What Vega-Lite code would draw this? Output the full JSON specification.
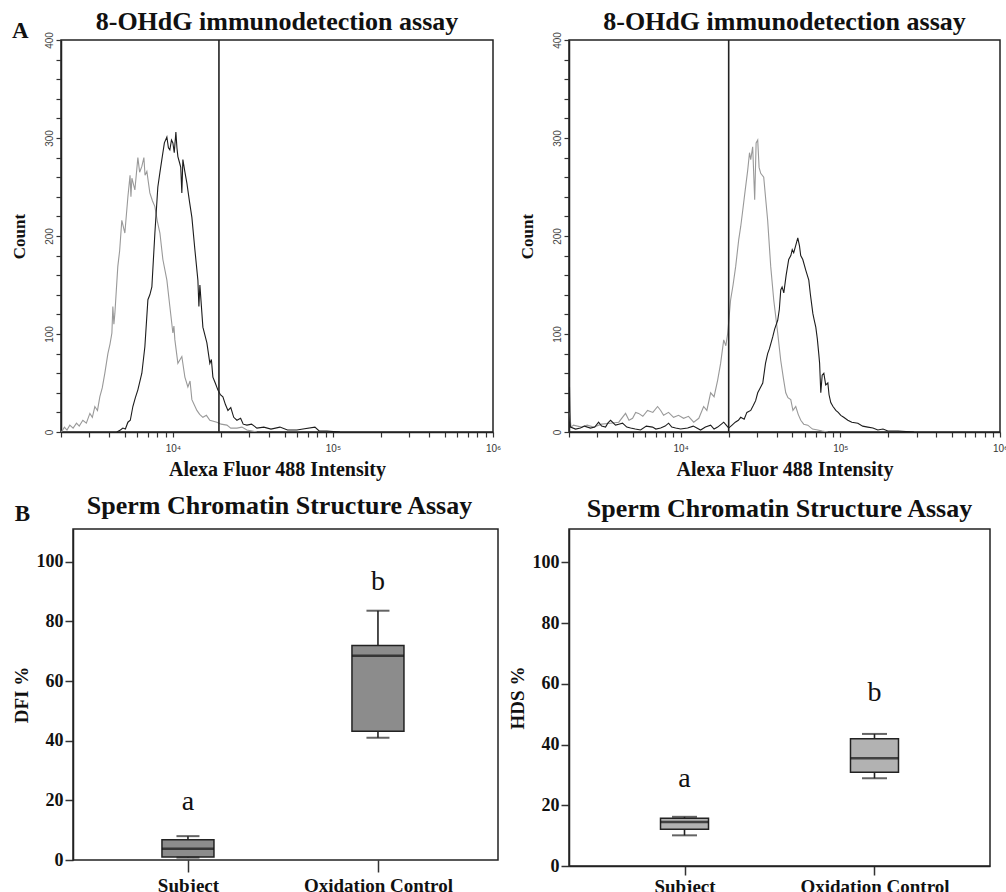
{
  "$schema": "https://vega.github.io/schema/vega-lite/v6.json",
  "background": "white",
  "padding": {"left": 9, "top": 7, "right": 0, "bottom": 0},
  "config": {
    "view": {"stroke": "#222", "strokeWidth": 1.5},
    "axis": {"grid": false},
    "title": {"font": "Liberation Serif", "fontWeight": "bold", "fontSize": 26, "color": "#111", "baseline": "alphabetic"}
  },
  "datasets": {
    "histL": [
      {"intensity":2014,"count":0,"sample":"Control"},{"intensity":2100,"count":5,"sample":"Control"},{"intensity":2180,"count":2,"sample":"Control"},{"intensity":2270,"count":7,"sample":"Control"},{"intensity":2380,"count":4,"sample":"Control"},{"intensity":2500,"count":9,"sample":"Control"},{"intensity":2600,"count":6,"sample":"Control"},{"intensity":2738,"count":12,"sample":"Control"},{"intensity":2880,"count":9,"sample":"Control"},{"intensity":3030,"count":19,"sample":"Control"},{"intensity":3140,"count":15,"sample":"Control"},{"intensity":3254,"count":26,"sample":"Control"},{"intensity":3380,"count":22,"sample":"Control"},{"intensity":3498,"count":36,"sample":"Control"},{"intensity":3620,"count":45,"sample":"Control"},{"intensity":3758,"count":60,"sample":"Control"},{"intensity":3926,"count":80,"sample":"Control"},{"intensity":4050,"count":90,"sample":"Control"},{"intensity":4159,"count":101,"sample":"Control"},{"intensity":4217,"count":128,"sample":"Control"},{"intensity":4280,"count":110,"sample":"Control"},{"intensity":4341,"count":121,"sample":"Control"},{"intensity":4529,"count":169,"sample":"Control"},{"intensity":4650,"count":185,"sample":"Control"},{"intensity":4797,"count":216,"sample":"Control"},{"intensity":5012,"count":203,"sample":"Control"},{"intensity":5236,"count":240,"sample":"Control"},{"intensity":5400,"count":262,"sample":"Control"},{"intensity":5470,"count":240,"sample":"Control"},{"intensity":5546,"count":259,"sample":"Control"},{"intensity":5788,"count":247,"sample":"Control"},{"intensity":6043,"count":280,"sample":"Control"},{"intensity":6200,"count":265,"sample":"Control"},{"intensity":6399,"count":271,"sample":"Control"},{"intensity":6590,"count":280,"sample":"Control"},{"intensity":6700,"count":262,"sample":"Control"},{"intensity":6879,"count":266,"sample":"Control"},{"intensity":7180,"count":244,"sample":"Control"},{"intensity":7450,"count":236,"sample":"Control"},{"intensity":7720,"count":230,"sample":"Control"},{"intensity":8000,"count":215,"sample":"Control"},{"intensity":8299,"count":203,"sample":"Control"},{"intensity":8660,"count":176,"sample":"Control"},{"intensity":9173,"count":155,"sample":"Control"},{"intensity":9574,"count":128,"sample":"Control"},{"intensity":10000,"count":101,"sample":"Control"},{"intensity":10150,"count":108,"sample":"Control"},{"intensity":10292,"count":94,"sample":"Control"},{"intensity":10746,"count":70,"sample":"Control"},{"intensity":11376,"count":77,"sample":"Control"},{"intensity":11885,"count":56,"sample":"Control"},{"intensity":12409,"count":46,"sample":"Control"},{"intensity":12800,"count":52,"sample":"Control"},{"intensity":13145,"count":33,"sample":"Control"},{"intensity":14125,"count":22,"sample":"Control"},{"intensity":14700,"count":18,"sample":"Control"},{"intensity":15399,"count":15,"sample":"Control"},{"intensity":16200,"count":17,"sample":"Control"},{"intensity":17022,"count":12,"sample":"Control"},{"intensity":18836,"count":10,"sample":"Control"},{"intensity":20000,"count":8,"sample":"Control"},{"intensity":21752,"count":7,"sample":"Control"},{"intensity":23000,"count":4,"sample":"Control"},{"intensity":25119,"count":4,"sample":"Control"},{"intensity":27000,"count":5,"sample":"Control"},{"intensity":29007,"count":2,"sample":"Control"},{"intensity":33497,"count":0,"sample":"Control"},
      {"intensity":4467,"count":0,"sample":"Test"},{"intensity":4700,"count":2,"sample":"Test"},{"intensity":4870,"count":4,"sample":"Test"},{"intensity":5050,"count":3,"sample":"Test"},{"intensity":5236,"count":10,"sample":"Test"},{"intensity":5420,"count":12,"sample":"Test"},{"intensity":5623,"count":26,"sample":"Test"},{"intensity":5830,"count":35,"sample":"Test"},{"intensity":6043,"count":43,"sample":"Test"},{"intensity":6399,"count":60,"sample":"Test"},{"intensity":6683,"count":87,"sample":"Test"},{"intensity":6982,"count":135,"sample":"Test"},{"intensity":7180,"count":140,"sample":"Test"},{"intensity":7391,"count":148,"sample":"Test"},{"intensity":7550,"count":175,"sample":"Test"},{"intensity":7720,"count":203,"sample":"Test"},{"intensity":8054,"count":250,"sample":"Test"},{"intensity":8300,"count":265,"sample":"Test"},{"intensity":8531,"count":278,"sample":"Test"},{"intensity":8850,"count":295,"sample":"Test"},{"intensity":9173,"count":301,"sample":"Test"},{"intensity":9380,"count":290,"sample":"Test"},{"intensity":9574,"count":288,"sample":"Test"},{"intensity":9800,"count":298,"sample":"Test"},{"intensity":10000,"count":295,"sample":"Test"},{"intensity":10200,"count":285,"sample":"Test"},{"intensity":10442,"count":306,"sample":"Test"},{"intensity":10600,"count":290,"sample":"Test"},{"intensity":10746,"count":281,"sample":"Test"},{"intensity":11000,"count":275,"sample":"Test"},{"intensity":11200,"count":270,"sample":"Test"},{"intensity":11376,"count":244,"sample":"Test"},{"intensity":11548,"count":278,"sample":"Test"},{"intensity":11900,"count":265,"sample":"Test"},{"intensity":12232,"count":254,"sample":"Test"},{"intensity":12700,"count":235,"sample":"Test"},{"intensity":13145,"count":219,"sample":"Test"},{"intensity":13725,"count":186,"sample":"Test"},{"intensity":14330,"count":155,"sample":"Test"},{"intensity":14540,"count":128,"sample":"Test"},{"intensity":14750,"count":150,"sample":"Test"},{"intensity":15399,"count":107,"sample":"Test"},{"intensity":16312,"count":91,"sample":"Test"},{"intensity":17022,"count":70,"sample":"Test"},{"intensity":17400,"count":74,"sample":"Test"},{"intensity":17783,"count":56,"sample":"Test"},{"intensity":18400,"count":50,"sample":"Test"},{"intensity":19098,"count":43,"sample":"Test"},{"intensity":19800,"count":38,"sample":"Test"},{"intensity":20535,"count":36,"sample":"Test"},{"intensity":21300,"count":28,"sample":"Test"},{"intensity":22080,"count":22,"sample":"Test"},{"intensity":23000,"count":25,"sample":"Test"},{"intensity":24000,"count":15,"sample":"Test"},{"intensity":25119,"count":12,"sample":"Test"},{"intensity":26500,"count":14,"sample":"Test"},{"intensity":27500,"count":8,"sample":"Test"},{"intensity":29007,"count":7,"sample":"Test"},{"intensity":31000,"count":8,"sample":"Test"},{"intensity":33497,"count":4,"sample":"Test"},{"intensity":37000,"count":5,"sample":"Test"},{"intensity":41000,"count":3,"sample":"Test"},{"intensity":46660,"count":5,"sample":"Test"},{"intensity":52000,"count":2,"sample":"Test"},{"intensity":59560,"count":2,"sample":"Test"},{"intensity":65000,"count":3,"sample":"Test"},{"intensity":77180,"count":5,"sample":"Test"},{"intensity":82000,"count":1,"sample":"Test"},{"intensity":91730,"count":1,"sample":"Test"},{"intensity":110600,"count":0,"sample":"Test"}
    ],
    "histR": [
      {"intensity":2014,"count":20,"sample":"Control"},{"intensity":2060,"count":5,"sample":"Control"},{"intensity":2133,"count":7,"sample":"Control"},{"intensity":2400,"count":5,"sample":"Control"},{"intensity":2600,"count":7,"sample":"Control"},{"intensity":2851,"count":5,"sample":"Control"},{"intensity":3200,"count":8,"sample":"Control"},{"intensity":3642,"count":9,"sample":"Control"},{"intensity":4100,"count":10,"sample":"Control"},{"intensity":4520,"count":19,"sample":"Control"},{"intensity":4750,"count":12,"sample":"Control"},{"intensity":5003,"count":14,"sample":"Control"},{"intensity":5230,"count":20,"sample":"Control"},{"intensity":5457,"count":19,"sample":"Control"},{"intensity":5800,"count":16,"sample":"Control"},{"intensity":6209,"count":22,"sample":"Control"},{"intensity":6700,"count":20,"sample":"Control"},{"intensity":7175,"count":26,"sample":"Control"},{"intensity":7500,"count":22,"sample":"Control"},{"intensity":7823,"count":17,"sample":"Control"},{"intensity":8400,"count":20,"sample":"Control"},{"intensity":9036,"count":15,"sample":"Control"},{"intensity":9700,"count":17,"sample":"Control"},{"intensity":10442,"count":14,"sample":"Control"},{"intensity":11200,"count":16,"sample":"Control"},{"intensity":12078,"count":10,"sample":"Control"},{"intensity":13000,"count":14,"sample":"Control"},{"intensity":13938,"count":26,"sample":"Control"},{"intensity":14600,"count":22,"sample":"Control"},{"intensity":15416,"count":40,"sample":"Control"},{"intensity":16200,"count":36,"sample":"Control"},{"intensity":17061,"count":53,"sample":"Control"},{"intensity":17800,"count":70,"sample":"Control"},{"intensity":18617,"count":94,"sample":"Control"},{"intensity":19200,"count":88,"sample":"Control"},{"intensity":19724,"count":101,"sample":"Control"},{"intensity":20565,"count":135,"sample":"Control"},{"intensity":21300,"count":150,"sample":"Control"},{"intensity":22124,"count":169,"sample":"Control"},{"intensity":23103,"count":196,"sample":"Control"},{"intensity":23800,"count":210,"sample":"Control"},{"intensity":24486,"count":226,"sample":"Control"},{"intensity":25300,"count":245,"sample":"Control"},{"intensity":26303,"count":267,"sample":"Control"},{"intensity":27000,"count":285,"sample":"Control"},{"intensity":27479,"count":278,"sample":"Control"},{"intensity":28267,"count":291,"sample":"Control"},{"intensity":29098,"count":237,"sample":"Control"},{"intensity":29700,"count":295,"sample":"Control"},{"intensity":30392,"count":298,"sample":"Control"},{"intensity":31000,"count":270,"sample":"Control"},{"intensity":31736,"count":264,"sample":"Control"},{"intensity":33144,"count":260,"sample":"Control"},{"intensity":34000,"count":240,"sample":"Control"},{"intensity":35075,"count":216,"sample":"Control"},{"intensity":36659,"count":169,"sample":"Control"},{"intensity":38282,"count":135,"sample":"Control"},{"intensity":40541,"count":101,"sample":"Control"},{"intensity":42366,"count":73,"sample":"Control"},{"intensity":44000,"count":55,"sample":"Control"},{"intensity":45541,"count":40,"sample":"Control"},{"intensity":47000,"count":35,"sample":"Control"},{"intensity":48943,"count":33,"sample":"Control"},{"intensity":50500,"count":22,"sample":"Control"},{"intensity":52602,"count":26,"sample":"Control"},{"intensity":54500,"count":18,"sample":"Control"},{"intensity":56544,"count":12,"sample":"Control"},{"intensity":59000,"count":8,"sample":"Control"},{"intensity":62537,"count":7,"sample":"Control"},{"intensity":67000,"count":3,"sample":"Control"},{"intensity":72227,"count":2,"sample":"Control"},{"intensity":77000,"count":1,"sample":"Control"},{"intensity":83561,"count":0,"sample":"Control"},
      {"intensity":2014,"count":46,"sample":"Test"},{"intensity":2030,"count":10,"sample":"Test"},{"intensity":2042,"count":5,"sample":"Test"},{"intensity":2200,"count":3,"sample":"Test"},{"intensity":2358,"count":4,"sample":"Test"},{"intensity":2500,"count":6,"sample":"Test"},{"intensity":2727,"count":4,"sample":"Test"},{"intensity":2900,"count":5,"sample":"Test"},{"intensity":3065,"count":10,"sample":"Test"},{"intensity":3200,"count":6,"sample":"Test"},{"intensity":3388,"count":5,"sample":"Test"},{"intensity":3500,"count":9,"sample":"Test"},{"intensity":3642,"count":12,"sample":"Test"},{"intensity":3912,"count":7,"sample":"Test"},{"intensity":4100,"count":8,"sample":"Test"},{"intensity":4327,"count":9,"sample":"Test"},{"intensity":4600,"count":5,"sample":"Test"},{"intensity":4862,"count":4,"sample":"Test"},{"intensity":5200,"count":3,"sample":"Test"},{"intensity":5613,"count":2,"sample":"Test"},{"intensity":6100,"count":6,"sample":"Test"},{"intensity":6670,"count":5,"sample":"Test"},{"intensity":7000,"count":3,"sample":"Test"},{"intensity":7499,"count":4,"sample":"Test"},{"intensity":8000,"count":6,"sample":"Test"},{"intensity":8408,"count":9,"sample":"Test"},{"intensity":8800,"count":5,"sample":"Test"},{"intensity":9305,"count":4,"sample":"Test"},{"intensity":10000,"count":3,"sample":"Test"},{"intensity":11066,"count":4,"sample":"Test"},{"intensity":12000,"count":6,"sample":"Test"},{"intensity":13338,"count":2,"sample":"Test"},{"intensity":14300,"count":5,"sample":"Test"},{"intensity":15416,"count":7,"sample":"Test"},{"intensity":16200,"count":3,"sample":"Test"},{"intensity":17061,"count":5,"sample":"Test"},{"intensity":18000,"count":8,"sample":"Test"},{"intensity":18617,"count":10,"sample":"Test"},{"intensity":19300,"count":7,"sample":"Test"},{"intensity":20004,"count":4,"sample":"Test"},{"intensity":21000,"count":7,"sample":"Test"},{"intensity":22000,"count":10,"sample":"Test"},{"intensity":23000,"count":12,"sample":"Test"},{"intensity":23782,"count":15,"sample":"Test"},{"intensity":25000,"count":13,"sample":"Test"},{"intensity":26000,"count":20,"sample":"Test"},{"intensity":27479,"count":22,"sample":"Test"},{"intensity":28500,"count":27,"sample":"Test"},{"intensity":29500,"count":32,"sample":"Test"},{"intensity":30392,"count":40,"sample":"Test"},{"intensity":31500,"count":45,"sample":"Test"},{"intensity":32685,"count":50,"sample":"Test"},{"intensity":34000,"count":70,"sample":"Test"},{"intensity":35075,"count":80,"sample":"Test"},{"intensity":36000,"count":85,"sample":"Test"},{"intensity":37737,"count":97,"sample":"Test"},{"intensity":38800,"count":105,"sample":"Test"},{"intensity":40541,"count":114,"sample":"Test"},{"intensity":41500,"count":125,"sample":"Test"},{"intensity":42366,"count":145,"sample":"Test"},{"intensity":43200,"count":148,"sample":"Test"},{"intensity":44274,"count":142,"sample":"Test"},{"intensity":45800,"count":160,"sample":"Test"},{"intensity":47519,"count":176,"sample":"Test"},{"intensity":49000,"count":180,"sample":"Test"},{"intensity":50000,"count":186,"sample":"Test"},{"intensity":51076,"count":183,"sample":"Test"},{"intensity":52500,"count":190,"sample":"Test"},{"intensity":54166,"count":198,"sample":"Test"},{"intensity":55500,"count":190,"sample":"Test"},{"intensity":56500,"count":180,"sample":"Test"},{"intensity":58214,"count":176,"sample":"Test"},{"intensity":60814,"count":165,"sample":"Test"},{"intensity":63486,"count":155,"sample":"Test"},{"intensity":65000,"count":140,"sample":"Test"},{"intensity":67294,"count":121,"sample":"Test"},{"intensity":68500,"count":115,"sample":"Test"},{"intensity":70225,"count":107,"sample":"Test"},{"intensity":71800,"count":95,"sample":"Test"},{"intensity":73282,"count":80,"sample":"Test"},{"intensity":74200,"count":70,"sample":"Test"},{"intensity":75474,"count":40,"sample":"Test"},{"intensity":77000,"count":58,"sample":"Test"},{"intensity":78865,"count":60,"sample":"Test"},{"intensity":81000,"count":48,"sample":"Test"},{"intensity":83561,"count":50,"sample":"Test"},{"intensity":85000,"count":38,"sample":"Test"},{"intensity":87160,"count":30,"sample":"Test"},{"intensity":90000,"count":26,"sample":"Test"},{"intensity":93755,"count":22,"sample":"Test"},{"intensity":97000,"count":20,"sample":"Test"},{"intensity":100700,"count":17,"sample":"Test"},{"intensity":105000,"count":15,"sample":"Test"},{"intensity":111400,"count":12,"sample":"Test"},{"intensity":118000,"count":10,"sample":"Test"},{"intensity":128800,"count":9,"sample":"Test"},{"intensity":138000,"count":6,"sample":"Test"},{"intensity":148700,"count":5,"sample":"Test"},{"intensity":160000,"count":4,"sample":"Test"},{"intensity":171800,"count":2,"sample":"Test"},{"intensity":185000,"count":3,"sample":"Test"},{"intensity":198500,"count":1,"sample":"Test"},{"intensity":230000,"count":1,"sample":"Test"},{"intensity":289000,"count":0,"sample":"Test"}
    ],
    "dfi": [
      {"group": "Subject", "min": 0.8, "q1": 1.0, "median": 3.8, "q3": 6.8, "max": 8.0},
      {"group": "Oxidation Control", "min": 41.0, "q1": 43.2, "median": 68.5, "q3": 71.9, "max": 83.6}
    ],
    "hds": [
      {"group": "Subject", "min": 10.1, "q1": 12.1, "median": 14.5, "q3": 15.7, "max": 16.2},
      {"group": "Oxidation Control", "min": 28.9, "q1": 30.9, "median": 35.5, "q3": 41.9, "max": 43.5}
    ],
    "dfiLetters": [
      {"group": "Subject", "letter": "a", "value": 19.5},
      {"group": "Oxidation Control", "letter": "b", "value": 93.3}
    ],
    "hdsLetters": [
      {"group": "Subject", "letter": "a", "value": 28.6},
      {"group": "Oxidation Control", "letter": "b", "value": 57.0}
    ]
  },
  "spacing": 13,
  "vconcat": [
    {
      "spacing": 15,
      "hconcat": [
        {
          "width": 432, "height": 392,
          "title": {"text": "8-OHdG immunodetection assay", "offset": -15},
          "resolve": {"scale": {"x": "independent", "y": "independent"}},
          "layer": [
            {
              "layer": [
                {
                  "data": {"name": "histL"},
                  "mark": {"type": "line", "strokeWidth": 1.1, "clip": true},
                  "encoding": {
                    "x": {"field": "intensity", "type": "quantitative", "scale": {"type": "log", "domain": [2000, 1000000], "nice": false},
                      "axis": {"title": "Alexa Fluor 488 Intensity", "titleFont": "Liberation Serif", "titleFontSize": 20, "titleFontWeight": "bold", "titleColor": "#111", "titlePadding": 6,
                        "values": [2000,3000,4000,5000,6000,7000,8000,9000,10000,20000,30000,40000,50000,60000,70000,80000,90000,100000,200000,300000,400000,500000,600000,700000,800000,900000,1000000],
                        "labelExpr": "datum.value == 10000 ? '10⁴' : datum.value == 100000 ? '10⁵' : datum.value == 1000000 ? '10⁶' : ''",
                        "labelFont": "Liberation Sans", "labelFontSize": 10, "labelColor": "#333", "labelPadding": 6, "labelOverlap": false, "labelFlush": false,
                        "tickColor": "#333", "tickSize": 5, "tickWidth": 1.2, "domainColor": "#222", "domainWidth": 1.5}},
                    "y": {"field": "count", "type": "quantitative", "scale": {"domain": [0, 400], "nice": false},
                      "axis": {"title": "Count", "titleFont": "Liberation Serif", "titleFontSize": 17, "titleFontWeight": "bold", "titleColor": "#111", "titlePadding": 16,
                        "values": [0,20,40,60,80,100,120,140,160,180,200,220,240,260,280,300,320,340,360,380,400],
                        "labelExpr": "datum.value % 100 == 0 ? datum.label : ''",
                        "labelAngle": -90, "labelAlign": "center", "labelBaseline": "bottom",
                        "labelFont": "Liberation Sans", "labelFontSize": 10, "labelColor": "#444", "labelPadding": 2, "labelOverlap": false,
                        "tickColor": "#333", "tickSize": 5, "tickWidth": 1.2, "domainColor": "#222", "domainWidth": 1.5}},
                    "color": {"field": "sample", "type": "nominal", "scale": {"domain": ["Control", "Test"], "range": ["#999999", "#1c1c1c"]}, "legend": null}
                  }
                },
                {
                  "data": {"values": [{"gate": 19400}]},
                  "mark": {"type": "rule", "color": "#222", "strokeWidth": 1.6},
                  "encoding": {"x": {"field": "gate", "type": "quantitative"}}
                }
              ]
            },
            {
              "data": {"values": [{"label": "A"}]},
              "mark": {"type": "text", "font": "Liberation Serif", "fontWeight": "bold", "fontSize": 23, "color": "#111", "baseline": "middle", "align": "center"},
              "encoding": {
                "x": {"datum": -0.094, "type": "quantitative", "scale": {"domain": [0, 1], "nice": false}, "axis": null},
                "y": {"datum": 1.022, "type": "quantitative", "scale": {"domain": [0, 1], "nice": false}, "axis": null},
                "text": {"field": "label"}
              }
            }
          ]
        },
        {
          "width": 431, "height": 392,
          "title": {"text": "8-OHdG immunodetection assay", "offset": -3},
          "layer": [
            {
              "data": {"name": "histR"},
              "mark": {"type": "line", "strokeWidth": 1.1, "clip": true},
              "encoding": {
                "x": {"field": "intensity", "type": "quantitative", "scale": {"type": "log", "domain": [2000, 1000000], "nice": false},
                  "axis": {"title": "Alexa Fluor 488 Intensity", "titleFont": "Liberation Serif", "titleFontSize": 20, "titleFontWeight": "bold", "titleColor": "#111", "titlePadding": 6,
                    "values": [2000,3000,4000,5000,6000,7000,8000,9000,10000,20000,30000,40000,50000,60000,70000,80000,90000,100000,200000,300000,400000,500000,600000,700000,800000,900000,1000000],
                    "labelExpr": "datum.value == 10000 ? '10⁴' : datum.value == 100000 ? '10⁵' : datum.value == 1000000 ? '10⁶' : ''",
                    "labelFont": "Liberation Sans", "labelFontSize": 10, "labelColor": "#333", "labelPadding": 6, "labelOverlap": false, "labelFlush": false,
                    "tickColor": "#333", "tickSize": 5, "tickWidth": 1.2, "domainColor": "#222", "domainWidth": 1.5}},
                "y": {"field": "count", "type": "quantitative", "scale": {"domain": [0, 400], "nice": false},
                  "axis": {"title": "Count", "titleFont": "Liberation Serif", "titleFontSize": 17, "titleFontWeight": "bold", "titleColor": "#111", "titlePadding": 16,
                    "values": [0,20,40,60,80,100,120,140,160,180,200,220,240,260,280,300,320,340,360,380,400],
                    "labelExpr": "datum.value % 100 == 0 ? datum.label : ''",
                    "labelAngle": -90, "labelAlign": "center", "labelBaseline": "bottom",
                    "labelFont": "Liberation Sans", "labelFontSize": 10, "labelColor": "#444", "labelPadding": 2, "labelOverlap": false,
                    "tickColor": "#333", "tickSize": 5, "tickWidth": 1.2, "domainColor": "#222", "domainWidth": 1.5}},
                "color": {"field": "sample", "type": "nominal", "scale": {"domain": ["Control", "Test"], "range": ["#999999", "#1c1c1c"]}, "legend": null}
              }
            },
            {
              "data": {"values": [{"gate": 20000}]},
              "mark": {"type": "rule", "color": "#222", "strokeWidth": 1.6},
              "encoding": {"x": {"field": "gate", "type": "quantitative"}}
            }
          ]
        }
      ]
    },
    {
      "spacing": 8,
      "hconcat": [
        {
          "width": 437, "height": 331,
          "view": {"stroke": null},
          "title": {"text": "Sperm Chromatin Structure Assay", "offset": -16},
          "resolve": {"scale": {"x": "independent", "y": "independent"}},
          "layer": [
            {
              "data": {"name": "dfi"},
              "layer": [
                {
                  "mark": {"type": "rule", "color": "#222", "strokeWidth": 1.6},
                  "encoding": {
                    "x": {"field": "group", "type": "nominal", "sort": ["Subject", "Oxidation Control"], "scale": {"type": "point", "padding": 0.65, "align": 0.514},
                      "axis": {"title": null, "labelAngle": 0, "labelFont": "Liberation Serif", "labelFontSize": 19, "labelFontWeight": "bold", "labelColor": "#111", "labelPadding": 4,
                        "tickSize": 12, "tickWidth": 1.5, "tickColor": "#333", "domain": false}},
                    "y": {"field": "min", "type": "quantitative", "scale": {"domain": [0, 111], "nice": false},
                      "axis": {"title": "DFI %", "titleFont": "Liberation Serif", "titleFontSize": 19, "titleFontWeight": "bold", "titleColor": "#111", "titlePadding": 5, "offset": -12,
                        "values": [0, 20, 40, 60, 80, 100], "labelFont": "Liberation Serif", "labelFontSize": 18, "labelFontWeight": "bold", "labelColor": "#111", "labelPadding": 2,
                        "tickSize": 8, "tickWidth": 1.5, "tickColor": "#333", "domainColor": "#222", "domainWidth": 1.5}},
                    "y2": {"field": "max"}
                  }
                },
                {
                  "mark": {"type": "bar", "size": 52, "fill": "#8c8c8c", "stroke": "#222", "strokeWidth": 1.5},
                  "encoding": {
                    "x": {"field": "group", "type": "nominal", "sort": ["Subject", "Oxidation Control"], "scale": {"type": "point", "padding": 0.65, "align": 0.514}},
                    "y": {"field": "q1", "type": "quantitative"},
                    "y2": {"field": "q3"}
                  }
                },
                {
                  "mark": {"type": "tick", "size": 52, "thickness": 2.5, "color": "#111"},
                  "encoding": {
                    "x": {"field": "group", "type": "nominal", "sort": ["Subject", "Oxidation Control"], "scale": {"type": "point", "padding": 0.65, "align": 0.514}},
                    "y": {"field": "median", "type": "quantitative"}
                  }
                },
                {
                  "mark": {"type": "tick", "size": 23, "thickness": 2, "color": "#222"},
                  "encoding": {
                    "x": {"field": "group", "type": "nominal", "sort": ["Subject", "Oxidation Control"], "scale": {"type": "point", "padding": 0.65, "align": 0.514}},
                    "y": {"field": "min", "type": "quantitative"}
                  }
                },
                {
                  "mark": {"type": "tick", "size": 23, "thickness": 2, "color": "#222"},
                  "encoding": {
                    "x": {"field": "group", "type": "nominal", "sort": ["Subject", "Oxidation Control"], "scale": {"type": "point", "padding": 0.65, "align": 0.514}},
                    "y": {"field": "max", "type": "quantitative"}
                  }
                },
                {
                  "data": {"name": "dfiLetters"},
                  "mark": {"type": "text", "font": "Liberation Serif", "fontSize": 28, "color": "#111", "baseline": "middle"},
                  "encoding": {
                    "x": {"field": "group", "type": "nominal", "sort": ["Subject", "Oxidation Control"], "scale": {"type": "point", "padding": 0.65, "align": 0.514}},
                    "y": {"field": "value", "type": "quantitative"},
                    "text": {"field": "letter"}
                  }
                }
              ]
            },
            {
              "data": {"values": [{"label": "B"}]},
              "layer": [
                {
                  "mark": {"type": "rect", "fill": null, "stroke": "#222", "strokeWidth": 1.5},
                  "encoding": {
                    "x": {"datum": 0.0275, "type": "quantitative", "scale": {"domain": [0, 1], "nice": false}, "axis": null},
                    "x2": {"datum": 1},
                    "y": {"datum": 0, "type": "quantitative", "scale": {"domain": [0, 1], "nice": false}, "axis": null},
                    "y2": {"datum": 1}
                  }
                },
                {
                  "mark": {"type": "text", "font": "Liberation Serif", "fontWeight": "bold", "fontSize": 23, "color": "#111", "baseline": "middle", "align": "center"},
                  "encoding": {
                    "x": {"datum": -0.088, "type": "quantitative"},
                    "y": {"datum": 1.045, "type": "quantitative"},
                    "text": {"field": "label"}
                  }
                }
              ]
            }
          ]
        },
        {
          "width": 421, "height": 337,
          "title": {"text": "Sperm Chromatin Structure Assay", "offset": 7},
          "data": {"name": "hds"},
          "layer": [
            {
              "mark": {"type": "rule", "color": "#222", "strokeWidth": 1.6},
              "encoding": {
                "x": {"field": "group", "type": "nominal", "sort": ["Subject", "Oxidation Control"], "scale": {"type": "point", "padding": 0.608},
                  "axis": {"title": null, "labelAngle": 0, "labelFont": "Liberation Serif", "labelFontSize": 19, "labelFontWeight": "bold", "labelColor": "#111", "labelPadding": 2,
                    "tickSize": 9, "tickWidth": 1.5, "tickColor": "#333", "domainColor": "#222", "domainWidth": 1.5}},
                "y": {"field": "min", "type": "quantitative", "scale": {"domain": [0, 111], "nice": false},
                  "axis": {"title": "HDS %", "titleFont": "Liberation Serif", "titleFontSize": 19, "titleFontWeight": "bold", "titleColor": "#111", "titlePadding": 5,
                    "values": [0, 20, 40, 60, 80, 100], "labelFont": "Liberation Serif", "labelFontSize": 18, "labelFontWeight": "bold", "labelColor": "#111", "labelPadding": 2,
                    "tickSize": 8, "tickWidth": 1.5, "tickColor": "#333", "domainColor": "#222", "domainWidth": 1.5}},
                "y2": {"field": "max"}
              }
            },
            {
              "mark": {"type": "bar", "size": 48, "fill": "#b2b2b2", "stroke": "#222", "strokeWidth": 1.5},
              "encoding": {
                "x": {"field": "group", "type": "nominal", "sort": ["Subject", "Oxidation Control"], "scale": {"type": "point", "padding": 0.608}},
                "y": {"field": "q1", "type": "quantitative"},
                "y2": {"field": "q3"}
              }
            },
            {
              "mark": {"type": "tick", "size": 48, "thickness": 2.5, "color": "#111"},
              "encoding": {
                "x": {"field": "group", "type": "nominal", "sort": ["Subject", "Oxidation Control"], "scale": {"type": "point", "padding": 0.608}},
                "y": {"field": "median", "type": "quantitative"}
              }
            },
            {
              "mark": {"type": "tick", "size": 25, "thickness": 2, "color": "#222"},
              "encoding": {
                "x": {"field": "group", "type": "nominal", "sort": ["Subject", "Oxidation Control"], "scale": {"type": "point", "padding": 0.608}},
                "y": {"field": "min", "type": "quantitative"}
              }
            },
            {
              "mark": {"type": "tick", "size": 25, "thickness": 2, "color": "#222"},
              "encoding": {
                "x": {"field": "group", "type": "nominal", "sort": ["Subject", "Oxidation Control"], "scale": {"type": "point", "padding": 0.608}},
                "y": {"field": "max", "type": "quantitative"}
              }
            },
            {
              "data": {"name": "hdsLetters"},
              "mark": {"type": "text", "font": "Liberation Serif", "fontSize": 28, "color": "#111", "baseline": "middle"},
              "encoding": {
                "x": {"field": "group", "type": "nominal", "sort": ["Subject", "Oxidation Control"], "scale": {"type": "point", "padding": 0.608}},
                "y": {"field": "value", "type": "quantitative"},
                "text": {"field": "letter"}
              }
            }
          ]
        }
      ]
    }
  ]
}
